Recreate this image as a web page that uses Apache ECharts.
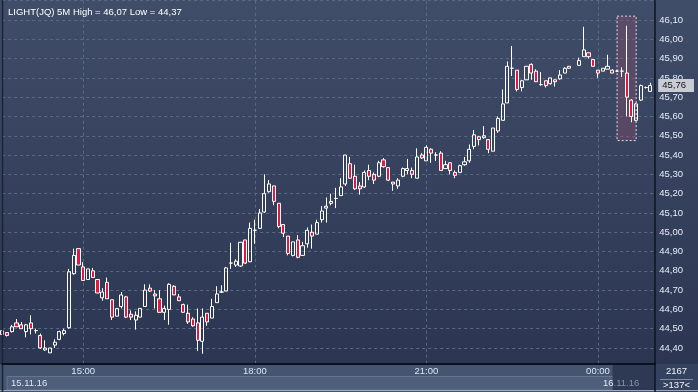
<!DOCTYPE html>
<html><head><meta charset="utf-8">
<script src="https://cdn.jsdelivr.net/npm/echarts@6/dist/echarts.min.js"></script>
<style>html,body{margin:0;padding:0;background:#2c3651}#c{width:698px;height:392px}</style>
</head><body><div id="c"></div>
<script>
// 5-minute slots from 13:35 to 01:00
const startMinute = 13 * 60 + 35;
const slotCount = 138;
const categories = [];
for (let i = 0; i < slotCount; i++) {
  const m = (startMinute + i * 5) % 1440;
  categories.push(String(Math.floor(m / 60)).padStart(2, '0') + ':' + String(m % 60).padStart(2, '0'));
}
const timeLabels = ['15:00', '18:00', '21:00', '00:00'];
const dateLabels = ['15.11.16', '16.11.16'];
const titleText = 'LIGHT(JQ) 5M High = 46,07 Low = 44,37';
const barCountText = '2167';
const visibleText = '>137<';

const opens = [44.49,44.48,44.485,44.53,44.52,44.485,44.53,44.49,44.465,44.39,44.375,44.415,44.445,44.475,44.505,44.785,44.915,44.82,44.755,44.80,
44.755,44.66,44.74,44.65,44.565,44.615,44.665,44.575,44.545,44.56,44.615,44.71,44.68,44.655,44.585,44.60,44.72,44.665,44.625,44.58,
44.55,44.53,44.435,44.58,44.555,44.635,44.69,44.695,44.84,44.83,44.825,44.96,44.847,45.01,45.02,45.105,45.21,45.24,45.15,45.04,
44.98,44.88,44.96,44.88,44.94,45.00,44.99,45.065,45.125,45.15,45.175,45.19,45.25,45.355,45.29,45.24,45.235,45.32,45.30,45.29,
45.375,45.335,45.26,45.24,45.29,45.32,45.32,45.28,45.40,45.37,45.43,45.40,45.41,45.33,45.36,45.31,45.31,45.35,45.37,45.445,
45.495,45.49,45.48,45.42,45.525,45.58,45.67,45.85,45.84,45.75,45.79,45.87,45.835,45.765,45.785,45.77,45.79,45.795,45.825,45.86,
null,45.865,45.91,45.93,45.895,45.84,45.835,45.845,45.84,45.835,45.835,45.825,45.685,45.58,45.685,45.75,45.73];
const closes = [44.47,44.465,44.51,44.51,44.50,44.52,44.50,44.49,44.40,44.40,44.40,44.43,44.485,44.49,44.795,44.88,44.83,44.75,44.81,44.765,
44.685,44.69,44.655,44.56,44.605,44.675,44.56,44.56,44.57,44.605,44.70,44.695,44.67,44.585,44.605,44.73,44.675,44.645,44.585,44.535,
44.515,44.44,44.56,44.535,44.615,44.68,44.69,44.815,44.84,44.85,44.948,44.84,45.02,45.01,45.10,45.20,45.25,45.16,45.03,44.995,
44.89,44.95,44.87,44.93,45.01,44.98,45.05,45.11,45.135,45.16,45.175,45.235,45.40,45.28,45.225,45.225,45.31,45.29,45.27,45.36,
45.34,45.27,45.25,45.27,45.33,45.33,45.30,45.39,45.385,45.44,45.41,45.40,45.32,45.35,45.32,45.295,45.345,45.365,45.43,45.505,
45.48,45.50,45.43,45.54,45.59,45.665,45.86,45.85,45.74,45.785,45.86,45.825,45.78,45.765,45.76,45.80,45.78,45.815,45.85,45.85,
null,45.89,45.945,45.91,45.86,45.825,45.85,45.86,45.825,45.835,45.835,45.70,45.60,45.665,45.76,45.75,45.76];
const lows = [44.47,44.46,44.48,44.51,44.50,44.455,44.47,44.475,44.395,44.385,44.375,44.40,44.44,44.465,44.50,44.78,44.83,44.75,44.755,44.765,
44.685,44.645,44.655,44.545,44.565,44.605,44.555,44.545,44.495,44.56,44.615,44.69,44.605,44.585,44.545,44.52,44.675,44.645,44.585,44.525,
44.51,44.385,44.37,44.515,44.555,44.635,44.685,44.695,44.81,44.82,44.82,44.835,44.845,44.94,45.02,45.10,45.205,45.14,45.02,44.975,
44.88,44.875,44.865,44.88,44.92,44.915,44.99,45.05,45.05,45.14,45.125,45.19,45.24,45.28,45.22,45.195,45.23,45.27,45.25,45.285,
45.335,45.265,45.215,45.225,45.285,45.30,45.28,45.28,45.38,45.37,45.36,45.37,45.32,45.33,45.30,45.28,45.31,45.345,45.36,45.43,
45.45,45.485,45.41,45.42,45.515,45.58,45.67,45.81,45.73,45.73,45.79,45.79,45.78,45.76,45.75,45.765,45.755,45.79,45.825,45.85,
null,45.865,45.91,45.90,45.86,45.80,45.835,45.845,45.825,45.83,45.805,45.60,45.57,45.575,45.68,45.745,45.73];
const highs = [44.49,44.48,44.52,44.55,44.535,44.525,44.57,44.50,44.475,44.44,44.40,44.445,44.49,44.50,44.81,44.915,44.915,44.845,44.81,44.815,
44.755,44.71,44.765,44.65,44.605,44.69,44.67,44.595,44.59,44.605,44.73,44.73,44.70,44.70,44.62,44.735,44.725,44.68,44.63,44.625,
44.56,44.605,44.605,44.58,44.655,44.72,44.725,44.82,44.945,44.86,44.95,44.96,45.05,45.065,45.12,45.30,45.27,45.24,45.15,45.04,
44.98,44.95,44.985,44.95,45.025,45.04,45.065,45.135,45.18,45.20,45.23,45.28,45.40,45.39,45.35,45.26,45.32,45.35,45.31,45.37,
45.385,45.335,45.26,45.28,45.335,45.38,45.335,45.435,45.41,45.45,45.435,45.415,45.42,45.37,45.36,45.32,45.35,45.39,45.455,45.53,
45.50,45.55,45.48,45.54,45.60,45.74,45.885,45.965,45.84,45.79,45.86,45.875,45.845,45.83,45.785,45.80,45.79,45.84,45.855,45.86,
null,45.905,46.065,45.93,45.895,45.84,45.85,45.92,45.845,45.84,45.855,46.07,45.69,45.67,45.765,45.755,45.775];

const highlightFrom = 129, highlightTo = 133;
const highlightTop = 46.12, highlightBottom = 45.475;
const lastPrice = 45.76;

const candleData = categories.map((c, i) => {
  if (i >= opens.length || opens[i] == null) return ['-', '-', '-', '-'];
  return [opens[i], closes[i], lows[i], highs[i]];
});

const fmt = v => v.toFixed(2).replace('.', ',');
const FONT = 'Liberation Sans, Arial, sans-serif';

const chart = echarts.init(document.getElementById('c'), null, {renderer: 'canvas'});
chart.setOption({
  animation: false,
  backgroundColor: new echarts.graphic.LinearGradient(0, 0, 0, 1, [
    {offset: 0, color: '#404d68'}, {offset: 1, color: '#2a3450'}
  ]),
  title: {
    text: titleText, left: 3, top: 2,
    textStyle: {color: '#ffffff', fontSize: 9.5, fontWeight: 'normal', fontFamily: FONT}
  },
  grid: {left: 2.2, right: 42.8, top: 0.706, bottom: 24.71, containLabel: false},
  xAxis: [{
    type: 'category', data: categories, boundaryGap: false,
    axisLine: {show: false}, axisTick: {show: false}, axisLabel: {show: false},
    splitLine: {show: true, interval: (i, v) => timeLabels.includes(v),
      lineStyle: {color: '#5a6983', type: [3, 3], width: 1}}
  }, {
    type: 'category', data: categories, boundaryGap: false, position: 'bottom', offset: -4, z: 10,
    axisLine: {show: true, lineStyle: {color: '#0b111e', width: 2}},
    axisTick: {show: false}, splitLine: {show: false},
    axisLabel: {show: true, margin: 3, interval: (i, v) => timeLabels.includes(v),
      color: '#d8e6f8', fontSize: 9.5, fontFamily: FONT}
  }],
  yAxis: {
    type: 'value', position: 'right', min: 44.3, max: 46.2, interval: 0.1, scale: true,
    axisLine: {show: true, lineStyle: {color: '#0d1424', width: 1.5}},
    axisTick: {show: false},
    axisLabel: {margin: 4, color: '#e6ecf6', fontSize: 9.5, fontFamily: FONT,
      formatter: v => (v < 44.35 || v > 46.15) ? '' : fmt(v)},
    splitLine: {show: true, lineStyle: {color: '#5a6983', type: [3, 3], width: 1}}
  },
  series: [{
    type: 'candlestick', xAxisIndex: 0, data: candleData, barWidth: 3.6, clip: false,
    itemStyle: {color: 'rgba(0,0,0,0)', color0: '#e3173f', borderColor: '#ffffff', borderColor0: '#ffffff', borderWidth: 1},
    markArea: {
      silent: true,
      itemStyle: {color: 'rgba(150,80,110,0.33)', borderColor: '#e4dbe4', borderWidth: 1, borderType: [2, 2]},
      data: [[{xAxis: categories[highlightFrom], yAxis: highlightTop}, {xAxis: categories[highlightTo], yAxis: highlightBottom}]]
    },
    markLine: {
      silent: true, symbol: ['none', 'none'],
      lineStyle: {color: 'rgba(0,0,0,0)', width: 0},
      label: {show: true, position: 'end', distance: 3, formatter: () => fmt(lastPrice),
        backgroundColor: '#c8cdd5', color: '#111111', fontSize: 9.5, fontFamily: FONT,
        padding: [2, 8, 1, 4], borderRadius: 0},
      data: [{yAxis: lastPrice}]
    }
  }],
  graphic: [
    {type: 'rect', z: 5, shape: {x: 0, y: 364.3, width: 698, height: 28}, style: {fill: '#45546f'}},
    {type: 'rect', z: 6, shape: {x: 7, y: 376.5, width: 606, height: 13.5}, style: {fill: '#4f5e7a', stroke: '#66758f', lineWidth: 1}},
    {type: 'rect', z: 7, shape: {x: 612.5, y: 364.3, width: 42.5, height: 26}, style: {fill: '#2e3a54'}},
    {type: 'rect', z: 6, shape: {x: 655, y: 364.3, width: 43, height: 28}, style: {fill: '#35425f'}},
    {type: 'line', z: 8, shape: {x1: 0, y1: 390.5, x2: 698, y2: 390.5}, style: {stroke: '#9ca7b9', lineWidth: 1}},
    {type: 'line', z: 8, shape: {x1: 655, y1: 362, x2: 655, y2: 392}, style: {stroke: '#0d1424', lineWidth: 1.5}},
    {type: 'line', z: 8, shape: {x1: 2.5, y1: 0, x2: 2.5, y2: 392}, style: {stroke: '#1b2336', lineWidth: 1.5}},
    {type: 'line', z: 8, shape: {x1: 660, y1: 379.5, x2: 693, y2: 379.5}, style: {stroke: '#7d8ba4', lineWidth: 1}},
    {type: 'text', z: 9, x: 11, y: 383.5, style: {text: dateLabels[0], fill: '#dde4ef', font: '9.5px ' + FONT, textVerticalAlign: 'middle'}},
    {type: 'text', z: 9, x: 603, y: 383.5, style: {
      text: '{a|16}{b|.11.16}', font: '9.5px ' + FONT, textVerticalAlign: 'middle',
      rich: {a: {fill: '#e4eaf4', fontSize: 9.5, fontFamily: FONT}, b: {fill: '#8492aa', fontSize: 9.5, fontFamily: FONT}}}},
    {type: 'text', z: 9, x: 676.5, y: 371.5, style: {text: barCountText, fill: '#eef2f8', font: '9.5px ' + FONT, textAlign: 'center', textVerticalAlign: 'middle'}},
    {type: 'text', z: 9, x: 676.5, y: 385.5, style: {text: visibleText, fill: '#eef2f8', font: '9.5px ' + FONT, textAlign: 'center', textVerticalAlign: 'middle'}}
  ]
});
</script></body></html>
